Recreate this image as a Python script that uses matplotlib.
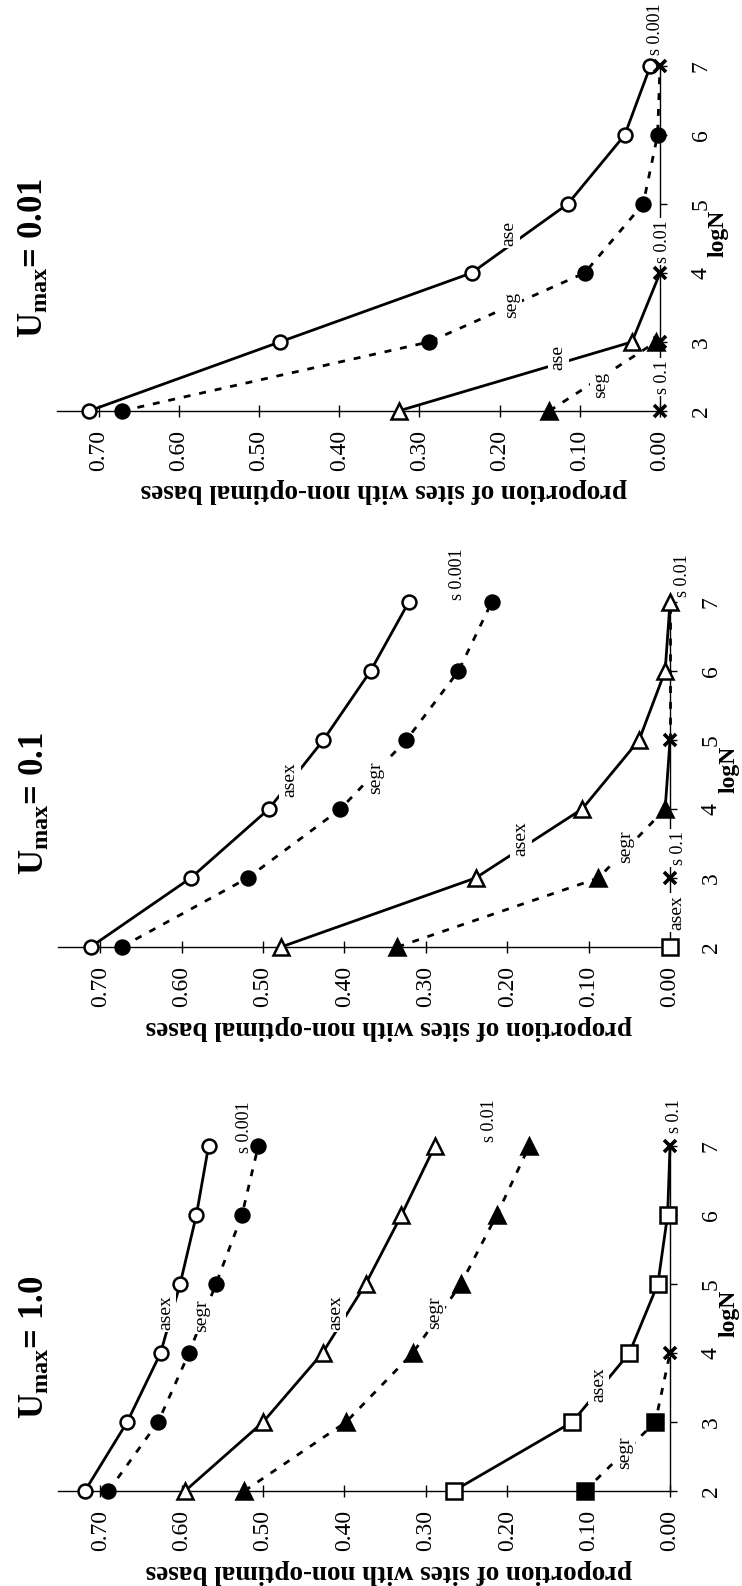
import matplotlib
matplotlib.use("Agg")
import matplotlib.pyplot as plt

plt.rcParams['font.family'] = ['Liberation Serif', 'DejaVu Serif']
plt.rcParams['mathtext.fontset'] = 'custom'
plt.rcParams['mathtext.rm'] = 'Liberation Serif'
plt.rcParams['mathtext.bf'] = 'Liberation Serif:bold'

# x values (logN) and y tick labels
log_n = [2, 3, 4, 5, 6, 7]
prop_ticks = [0.70, 0.60, 0.50, 0.40, 0.30, 0.20, 0.10, 0.00]
prop_labels = ['0.70', '0.60', '0.50', '0.40', '0.30', '0.20', '0.10', '0.00']
titles = ['1.0', '0.1', '0.01']

# ---- U_max = 1.0
u1_asex_s0001 = [0.719, 0.667, 0.626, 0.602, 0.582, 0.567]
u1_segr_s0001 = [0.690, 0.629, 0.591, 0.558, 0.526, 0.506]
u1_asex_s001 = [0.596, 0.500, 0.427, 0.374, 0.330, 0.289]
u1_segr_s001 = [0.523, 0.398, 0.316, 0.257, 0.213, 0.173]
u1_asex_s01 = [0.266, 0.120, 0.050, 0.015, 0.003, 0.0]   # last point = x marker
u1_segr_s01 = [0.105, 0.018, 0.0]                          # last point = x marker

# ---- U_max = 0.1
u2_asex_s0001 = [0.712, 0.589, 0.493, 0.426, 0.368, 0.321]
u2_segr_s0001 = [0.674, 0.519, 0.405, 0.324, 0.260, 0.219]
u2_asex_s001 = [0.478, 0.239, 0.108, 0.038, 0.006, 0.0]
u2_segr_s001 = [0.335, 0.088, 0.006]
u2_segr_s001_tail = [0.006, 0.0]        # logN 4 -> 5 (solid)
u2_zero_tail = [0.0, 0.0, 0.0]          # logN 5 -> 7 (dotted)
u2_asex_s01 = [0.0]                      # logN 2
u2_segr_s01 = [0.0]                      # logN 3

# ---- U_max = 0.01
u3_asex_s0001 = [0.712, 0.474, 0.235, 0.115, 0.044, 0.012]
u3_segr_s0001 = [0.671, 0.288, 0.094, 0.021, 0.003, 0.0]
u3_asex_s001 = [0.326, 0.035, 0.0]
u3_segr_s001 = [0.138, 0.005]
u3_s01 = [0.0, 0.0]                      # logN 2 and 3

DASH = (0, (2.5, 3.2))
LW = 2.0


def draw(ax, xs, ys, ls, marker, filled, last_x=False):
    ax.plot(ys, xs, ls=ls, color='black', lw=LW, clip_on=False, zorder=2)
    mx, my = (xs[:-1], ys[:-1]) if last_x else (xs, ys)
    if marker and len(mx):
        ax.plot(my, mx, ls='none', marker=marker, ms=10 if marker == 'o' else 11,
                mfc='black' if filled else 'white', mec='black', mew=1.8,
                clip_on=False, zorder=4)
    if last_x:
        star(ax, [xs[-1]], [ys[-1]])


def star(ax, xs, ys):
    ax.plot(ys, xs, ls='none', marker='x', ms=9, mew=2.6, color='black',
            clip_on=False, zorder=5)


def label(ax, p, n, s, size=14):
    ax.text(p, n, s, rotation=90, ha='center', va='center', fontsize=size,
            bbox=dict(fc='white', ec='none', pad=1.5), zorder=3)


fig = plt.figure(figsize=(7.42, 15.86), dpi=100)
boxes = [[0.0782, 0.0599, 0.8248, 0.2175],
         [0.0782, 0.4029, 0.8248, 0.2175],
         [0.0768, 0.7409, 0.8127, 0.2175]]
axes = []
for box, t in zip(boxes, titles):
    ax = fig.add_axes(box)
    ax.set_xlim(0.752, 0.0)
    ax.set_ylim(2, 7)
    for s in ['top', 'left']:
        ax.spines[s].set_visible(False)
    ax.spines['bottom'].set_linewidth(1.0)
    ax.spines['right'].set_linewidth(1.0)
    ax.yaxis.tick_right()
    ax.set_xticks(prop_ticks)
    ax.set_xticklabels(prop_labels, rotation=90, fontsize=17)
    ax.set_yticks(log_n)
    ax.set_yticklabels([str(v) for v in log_n], rotation=90, va='center', fontsize=17)
    ax.tick_params(axis='x', direction='inout', length=9, width=1, pad=9)
    ax.tick_params(axis='y', direction='out', length=5, width=1, pad=17)
    ax.text(0.78, 3.05, r'$\mathbf{U_{max}}$= ' + t, rotation=90, ha='center',
            va='bottom', fontsize=25, fontweight='bold')
    ax.text(-0.0725, 4.58, 'logN', rotation=90, ha='center', va='center',
            fontsize=17, fontweight='bold')
    ax.text(0.345, 0.84, 'proportion of sites with non-optimal bases', rotation=180,
            ha='center', va='center', fontsize=19.5, fontweight='bold')
    axes.append(ax)

# U_max = 1.0
ax = axes[0]
draw(ax, log_n, u1_asex_s0001, '-', 'o', False)
draw(ax, log_n, u1_segr_s0001, DASH, 'o', True)
draw(ax, log_n, u1_asex_s001, '-', '^', False)
draw(ax, log_n, u1_segr_s001, DASH, '^', True)
draw(ax, log_n, u1_asex_s01, '-', 's', False, last_x=True)
draw(ax, log_n[:3], u1_segr_s01, DASH, 's', True, last_x=True)
label(ax, 0.620, 4.59, 'asex')
label(ax, 0.576, 4.54, 'segr')
label(ax, 0.523, 7.27, 's 0.001', 13)
label(ax, 0.411, 4.59, 'asex')
label(ax, 0.289, 4.59, 'segr')
label(ax, 0.222, 7.37, 's 0.01', 13)
label(ax, 0.088, 3.54, 'asex')
label(ax, 0.056, 2.56, 'segr')
label(ax, -0.006, 7.44, 's 0.1', 13)

# U_max = 0.1
ax = axes[1]
draw(ax, log_n, u2_asex_s0001, '-', 'o', False)
draw(ax, log_n, u2_segr_s0001, DASH, 'o', True)
draw(ax, log_n, u2_asex_s001, '-', '^', False)
draw(ax, log_n[:3], u2_segr_s001, DASH, '^', True)
draw(ax, log_n[2:4], u2_segr_s001_tail, '-', None, True)
draw(ax, log_n[3:], u2_zero_tail, DASH, None, True)
star(ax, [log_n[3]], [0.0])
draw(ax, log_n[:1], u2_asex_s01, '-', 's', False)
star(ax, [log_n[1]], u2_segr_s01)
label(ax, 0.467, 4.42, 'asex')
label(ax, 0.362, 4.45, 'segr')
label(ax, 0.261, 7.40, 's 0.001', 13)
label(ax, 0.183, 3.57, 'asex')
label(ax, 0.055, 3.46, 'segr')
label(ax, -0.010, 3.44, 's 0.1', 13)
label(ax, -0.009, 2.50, 'asex')
label(ax, -0.015, 7.38, 's 0.01', 13)

# U_max = 0.01
ax = axes[2]
draw(ax, log_n, u3_asex_s0001, '-', 'o', False)
draw(ax, log_n, u3_segr_s0001, DASH, 'o', True, last_x=True)
draw(ax, log_n[:3], u3_asex_s001, '-', '^', False, last_x=True)
draw(ax, log_n[:2], u3_segr_s001, DASH, '^', True)
star(ax, log_n[:2], u3_s01)
label(ax, 0.188, 4.57, 'ase')
label(ax, 0.185, 3.54, 'seg')
label(ax, 0.127, 2.77, 'ase')
label(ax, 0.074, 2.37, 'seg')
label(ax, 0.006, 7.54, 's 0.001', 13)
label(ax, -0.003, 4.46, 's 0.01', 13)
label(ax, -0.003, 2.49, 's 0.1', 13)

fig.savefig('out.png', dpi=100)
